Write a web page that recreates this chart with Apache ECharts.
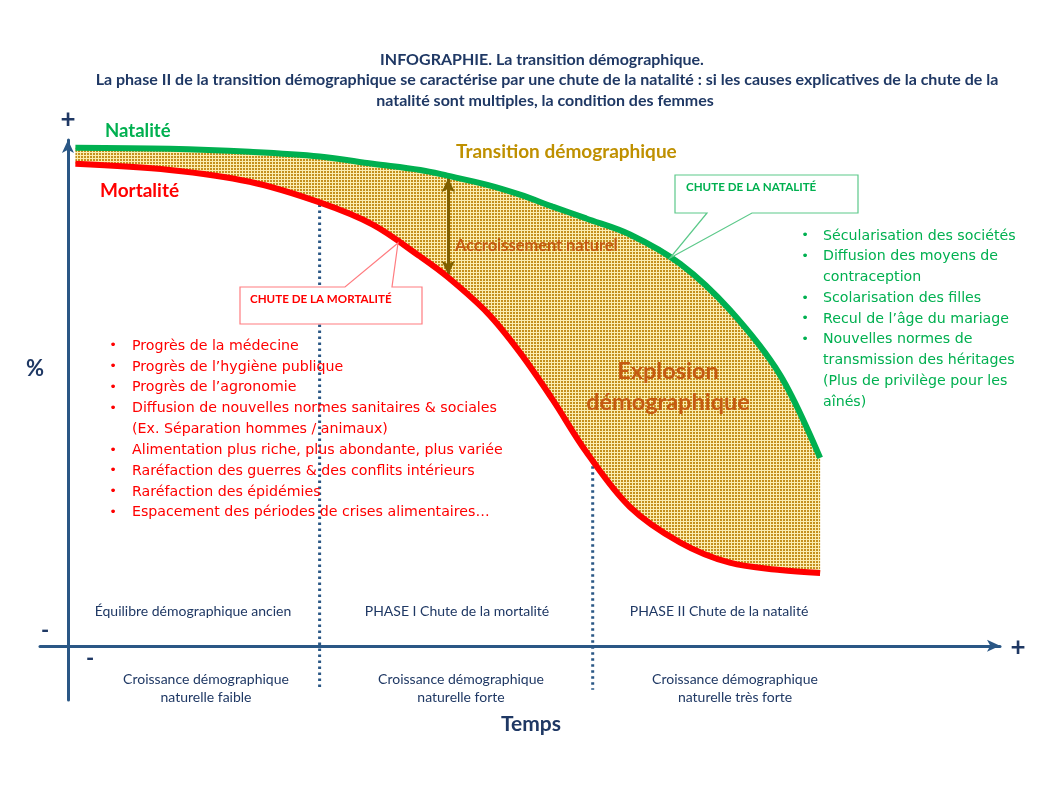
<!DOCTYPE html>
<html><head><meta charset="utf-8">
<script src="https://cdn.jsdelivr.net/npm/echarts@6/dist/echarts.min.js"></script>
<style>html,body{margin:0;padding:0;background:#fff}#c{width:1053px;height:789px}</style>
</head><body><div id="c"></div>
<script>
// ---- data (conceptual scale: time 0-100, rate % 0-100) ----
const timeX     = [0.8, 10.9, 19.5, 27.0, 32.7, 37.8, 40.7, 45.0, 48.5, 52.0, 55.6, 60.3, 65.7, 71.0, 76.4, 80.7];
const natalite  = [96.5, 96.3, 95.7, 94.8, 93.4, 92.2, 91.1, 89.3, 87.4, 85.1, 82.8, 79.7, 74.0, 65.1, 52.5, 36.4];
const mortalite = [93.4, 92.2, 89.9, 85.9, 81.6, 75.4, 71.5, 64.5, 56.8, 47.7, 37.6, 26.9, 20.0, 16.1, 14.7, 14.1];
const phaseBounds = [27.0, 56.3];
const phaseTops   = [85.5, 34.8];
const phaseBottom = -8.5;
const arrowX = 40.8, arrowTop = 90.6, arrowBottom = 71.9;
const phaseLabels = ['Équilibre démographique ancien', 'PHASE I Chute de la mortalité', 'PHASE II Chute de la natalité'];
const croissanceLabels = [['Croissance démographique','naturelle faible'],['Croissance démographique','naturelle forte'],['Croissance démographique','naturelle très forte']];
const causesMortalite = [
  ['Progrès de la médecine'],
  ['Progrès de l\u2019hygiène publique'],
  ['Progrès de l\u2019agronomie'],
  ['Diffusion de nouvelles normes sanitaires & sociales','(Ex. Séparation hommes / animaux)'],
  ['Alimentation plus riche, plus abondante, plus variée'],
  ['Raréfaction des guerres & des conflits intérieurs'],
  ['Raréfaction des épidémies'],
  ['Espacement des périodes de crises alimentaires\u2026']
];
const causesNatalite = [
  ['Sécularisation des sociétés'],
  ['Diffusion des moyens de','contraception'],
  ['Scolarisation des filles'],
  ['Recul de l\u2019âge du mariage'],
  ['Nouvelles normes de','transmission des héritages','(Plus de privilège pour les','aînés)']
];

// ---- pattern ----
const pc = document.createElement('canvas');
pc.width = 3; pc.height = 3;
const pctx = pc.getContext('2d');
pctx.fillStyle = '#fbeeb0'; pctx.fillRect(0,0,3,3);
pctx.fillStyle = '#c4901e'; pctx.fillRect(0,0,2,2);

const NAVY = '#1f3864';
const AX = '#2a5785';
const SANS = 'Lato, "Noto Sans", sans-serif';
const LIST = '"DejaVu Sans", sans-serif';

const natPts = timeX.map((x,i)=>[x, natalite[i]]);
const morPts = timeX.map((x,i)=>[x, mortalite[i]]);
// white mask under mortality, slightly widened to hide anti-aliased edges
const n = timeX.length;
const maskPts = [[timeX[0]-0.4, mortalite[0]]].concat(morPts, [[timeX[n-1]+0.4, mortalite[n-1]]]);

const graphics = [];
function txt(x,y,text,opt){
  graphics.push({type:'text', z:100, x:x, y:y, style:Object.assign({text:text, fill:NAVY, font:'13px '+SANS, textAlign:'left', textVerticalAlign:'middle'}, opt||{})});
}
// title
txt(542,60,'INFOGRAPHIE. La transition démographique.',{font:'bold 16px '+SANS,textAlign:'center'});
txt(547,80,'La phase II de la transition démographique se caractérise par une chute de la natalité : si les causes explicatives de la chute de la',{font:'bold 16px '+SANS,textAlign:'center'});
txt(545,101,'natalité sont multiples, la condition des femmes',{font:'bold 16px '+SANS,textAlign:'center'});
// axis marks
txt(68,120,'+',{font:'bold 26px '+SANS,textAlign:'center'});
txt(1018,648,'+',{font:'bold 26px '+SANS,textAlign:'center'});
txt(45,631,'-',{font:'bold 22px '+SANS,textAlign:'center'});
txt(90,659,'-',{font:'bold 22px '+SANS,textAlign:'center'});
txt(35,369,'%',{font:'bold 22px '+SANS,textAlign:'center'});
txt(531,724,'Temps',{font:'bold 21px '+SANS,textAlign:'center'});
// curve labels
txt(105,131,'Natalité',{font:'bold 18.5px '+SANS,fill:'#00b050'});
txt(100,191,'Mortalité',{font:'bold 19px '+SANS,fill:'#ff0000'});
txt(456,152,'Transition démographique',{font:'bold 19px '+SANS,fill:'#bf9000'});
txt(455,246,'Accroissement naturel',{font:'bold 16.4px '+SANS,fill:'#c55a11'});
txt(668,371,'Explosion',{font:'bold 23.5px '+SANS,fill:'#c55a11',textAlign:'center'});
txt(668,402,'démographique',{font:'bold 23.5px '+SANS,fill:'#c55a11',textAlign:'center'});
// callouts
graphics.push({type:'polygon', z:90, shape:{points:[[675,175],[858,175],[858,213],[752,213],[670,258],[707,213],[675,213]]}, style:{fill:'#fff', stroke:'#5cc98a', lineWidth:1.2}});
txt(686,187,'CHUTE DE LA NATALITÉ',{font:'bold 11.6px '+SANS,fill:'#00b050'});
graphics.push({type:'polygon', z:90, shape:{points:[[240,287],[345,287],[398,243],[392,287],[422,287],[422,324],[240,324]]}, style:{fill:'#fff', stroke:'#ff7c80', lineWidth:1.2}});
txt(250,299,'CHUTE DE LA MORTALITÉ',{font:'bold 11.6px '+SANS,fill:'#ff0000'});
// lists
function list(items, bx, tx, y0, lh, color){
  let y = y0;
  items.forEach(lines=>{
    txt(bx,y,'\u2022',{font:'13px '+LIST,fill:color,textAlign:'center'});
    lines.forEach(l=>{ txt(tx,y,l,{font:'14.2px '+LIST,fill:color}); y += lh; });
  });
}
list(causesMortalite,113,132,346,20.85,'#ff0000');
list(causesNatalite,805,823,236,20.75,'#00b050');
// phase labels
const phaseCenters=[193,457,719];
phaseLabels.forEach((l,i)=>txt(phaseCenters[i],611,l,{font:'14px '+SANS,textAlign:'center'}));
const croisCenters=[206,461,735];
croissanceLabels.forEach((ls,i)=>{ txt(croisCenters[i],679,ls[0],{font:'14px '+SANS,textAlign:'center'}); txt(croisCenters[i],697,ls[1],{font:'14px '+SANS,textAlign:'center'}); });

const chart = echarts.init(document.getElementById('c'));
const SM = 0.35;
chart.setOption({
  animation:false,
  backgroundColor:'#fff',
  grid:{left:40,right:53,top:140,bottom:89},
  xAxis:{type:'value',min:-3,max:100,z:10,axisLine:{onZero:true,symbol:['none','arrow'],symbolSize:[9,13],lineStyle:{color:AX,width:3}},axisTick:{show:false},axisLabel:{show:false},splitLine:{show:false}},
  yAxis:{type:'value',min:-10.5,max:98,z:10,axisLine:{onZero:true,symbol:['none','arrow'],symbolSize:[9,13],lineStyle:{color:AX,width:3}},axisTick:{show:false},axisLabel:{show:false},splitLine:{show:false}},
  graphic:graphics,
  series:[
    {type:'line',name:'fillTop',data:natPts,smooth:SM,symbol:'none',lineStyle:{width:0,opacity:0},areaStyle:{origin:'start',color:{image:pc,repeat:'repeat'},opacity:1},z:1,silent:true},
    {type:'line',name:'fillMask',data:maskPts,smooth:SM,symbol:'none',lineStyle:{width:0,opacity:0},areaStyle:{origin:'start',color:'#ffffff',opacity:1},z:1,silent:true},
    {type:'line',name:'phase1',data:[[phaseBounds[0],phaseTops[0]],[phaseBounds[0],phaseBottom]],symbol:'none',lineStyle:{color:AX,width:3,type:[2.5,3.5]},z:3},
    {type:'line',name:'phase2',data:[[phaseBounds[1],phaseTops[1]],[phaseBounds[1],phaseBottom]],symbol:'none',lineStyle:{color:AX,width:3,type:[2.5,3.5]},z:3},
    {type:'line',name:'Natalité',data:natPts,smooth:SM,symbol:'none',lineStyle:{color:'#00b050',width:6,cap:'butt'},z:5},
    {type:'line',name:'Mortalité',data:morPts,smooth:SM,symbol:'none',lineStyle:{color:'#ff0000',width:6,cap:'butt'},z:5,
      markLine:{silent:true,symbol:['arrow','arrow'],symbolSize:[10,14],label:{show:false},lineStyle:{color:'#7f6000',width:3,type:'solid'},
        data:[[{coord:[arrowX,arrowTop]},{coord:[arrowX,arrowBottom]}]]}}
  ]
});
</script></body></html>
